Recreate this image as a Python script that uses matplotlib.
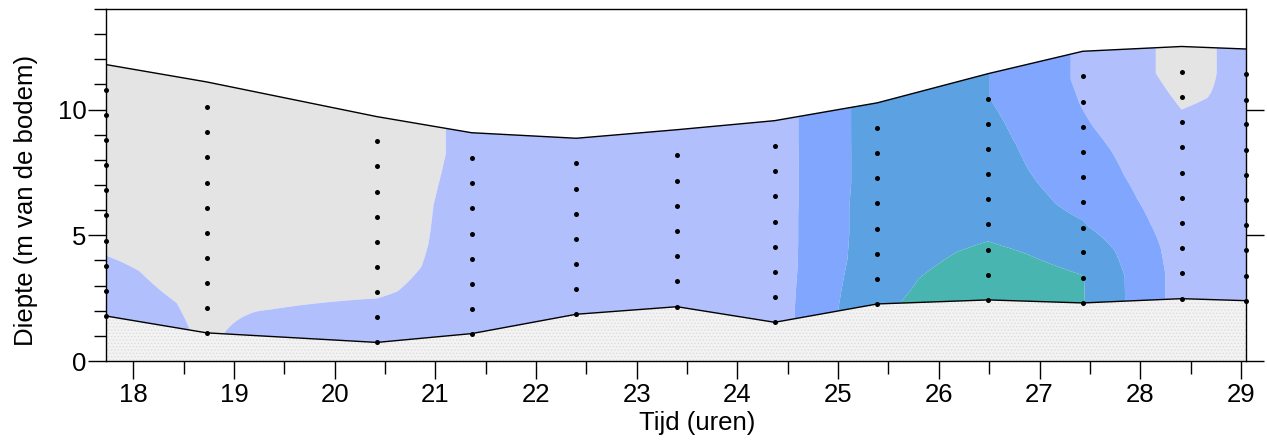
import numpy as np
import matplotlib
matplotlib.use("Agg")
import matplotlib.pyplot as plt
from matplotlib.ticker import MultipleLocator

plt.rcParams['font.family'] = ['Liberation Sans', 'DejaVu Sans']
plt.rcParams['hatch.color'] = '#dcdcdc'
plt.rcParams['hatch.linewidth'] = 0.6

# Meetprofielen: tijdstip (uren), hoogte wateroppervlak en meetpunten per profiel
tijd = [17.73, 18.73, 20.42, 21.36, 22.40, 23.40, 24.37, 25.39, 26.49, 27.43, 28.41, 29.05]
oppervlak = [11.79, 11.10, 9.72, 9.08, 8.86, 9.20, 9.56, 10.27, 11.43, 12.32, 12.51, 12.41]

# hoogte van de meetpunten boven de bodem (eerste punt = bodem)
hoogte = [
    [1.79, 2.79, 3.79, 4.79, 5.79, 6.79, 7.79, 8.79, 9.79, 10.79],
    [1.12, 2.11, 3.11, 4.10, 5.10, 6.10, 7.10, 8.10, 9.10, 10.10],
    [0.74, 1.74, 2.74, 3.74, 4.74, 5.74, 6.74, 7.74, 8.74],
    [1.09, 2.08, 3.08, 4.07, 5.07, 6.09, 7.08, 8.08],
    [1.86, 2.86, 3.86, 4.86, 5.86, 6.85, 7.86],
    [2.16, 3.17, 4.17, 5.16, 6.17, 7.17, 8.18],
    [1.54, 2.55, 3.55, 4.54, 5.54, 6.55, 7.55, 8.55],
    [2.27, 3.27, 4.26, 5.26, 6.27, 7.27, 8.26, 9.27],
    [2.43, 3.43, 4.43, 5.43, 6.43, 7.43, 8.44, 9.43, 10.44],
    [2.31, 3.32, 4.32, 5.31, 6.32, 7.32, 8.32, 9.32, 10.32, 11.32],
    [2.48, 3.49, 4.49, 5.50, 6.49, 7.49, 8.50, 9.50, 10.50, 11.50],
    [2.40, 3.40, 4.40, 5.41, 6.41, 7.41, 8.41, 9.41, 10.40, 11.40],
]

# gemeten waarde in elk meetpunt
waarde = [
    [1.50, 1.35, 1.20, 0.70, 0.60, 0.60, 0.60, 0.60, 0.60, 0.60],
    [0.90, 0.85, 0.60, 0.55, 0.55, 0.55, 0.55, 0.55, 0.55, 0.55],
    [1.90, 1.30, 0.90, 0.72, 0.66, 0.64, 0.62, 0.60, 0.60],
    [1.60, 1.40, 1.35, 1.30, 1.27, 1.25, 1.20, 1.15],
    [1.60, 1.50, 1.45, 1.45, 1.40, 1.40, 1.35],
    [1.60, 1.55, 1.50, 1.50, 1.45, 1.45, 1.40],
    [1.55, 1.55, 1.54, 1.54, 1.54, 1.54, 1.54, 1.55],
    [3.90, 3.75, 3.60, 3.55, 3.55, 3.50, 3.50, 3.50],
    [4.40, 4.40, 4.15, 3.70, 3.60, 3.45, 3.35, 3.20, 3.02],
    [4.05, 4.03, 3.70, 3.10, 2.75, 2.50, 2.30, 2.10, 1.95, 1.85],
    [1.60, 1.60, 1.55, 1.50, 1.40, 1.30, 1.25, 1.10, 0.90, 0.70],
    [1.50, 1.50, 1.45, 1.45, 1.40, 1.40, 1.35, 1.30, 1.15, 1.25],
]

klassen = [-10, 1, 2, 3, 4, 10]
kleuren = ['#e4e4e4', '#b2bffd', '#80a6fd', '#5ca1e1', '#48b5b0']

tijd = np.array(tijd)
oppervlak = np.array(oppervlak)
bodem = np.array([h[0] for h in hoogte])

# interpolatie in sigma-coordinaten tussen bodem en oppervlak
sigma = np.linspace(0, 1, 300)
prof = np.array([np.interp(b + sigma * (s - b), h, w)
                 for b, s, h, w in zip(bodem, oppervlak, hoogte, waarde)])
xg = np.linspace(tijd[0], tijd[-1], 1200)
V = np.array([np.interp(xg, tijd, prof[:, j]) for j in range(len(sigma))])
bod_g = np.interp(xg, tijd, bodem)
opp_g = np.interp(xg, tijd, oppervlak)
X = np.tile(xg, (len(sigma), 1))
Z = bod_g[None, :] + sigma[:, None] * (opp_g - bod_g)[None, :]

fig = plt.figure(figsize=(12.67, 4.4), dpi=100)
ax = fig.add_axes([0.0837, 0.1795, 0.8997, 0.80])

ax.contourf(X, Z, V, levels=klassen, colors=kleuren, antialiased=True)

# bodem
ax.fill_between(tijd, 0, bodem, facecolor='#f3f3f3', hatch='.....', linewidth=0)
ax.plot(tijd, bodem, color='black', lw=1.0)
ax.plot(tijd, oppervlak, color='black', lw=1.0)

for t, h in zip(tijd, hoogte):
    ax.plot(np.full(len(h), t), h, 'o', color='black', ms=3.6, mec='none', clip_on=False)

ax.set_xlim(tijd[0], tijd[-1])
ax.set_ylim(0, 14)
ax.xaxis.set_major_locator(MultipleLocator(1))
ax.xaxis.set_minor_locator(MultipleLocator(0.5))
ax.yaxis.set_major_locator(MultipleLocator(5))
ax.yaxis.set_minor_locator(MultipleLocator(1))
ax.tick_params(which='both', direction='out', labelsize=18.5, width=1.0, colors='black')
ax.tick_params(which='major', length=13)
ax.tick_params(which='minor', length=9)
ax.tick_params(axis='x', which='major', pad=3)
ax.tick_params(axis='y', which='major', pad=1, right=True)
ax.tick_params(axis='y', which='minor', right=False)
for sp in ax.spines.values():
    sp.set_linewidth(1.0)

ax.set_xlabel('Tijd (uren)', fontsize=18.5)
ax.set_ylabel('Diepte (m van de bodem)', fontsize=18.5)
ax.xaxis.set_label_coords(0.519, -0.142)
ax.xaxis.label.set_va('top')
ax.yaxis.set_label_coords(-0.060, 0.457)

fig.savefig('out.png', dpi=100)
